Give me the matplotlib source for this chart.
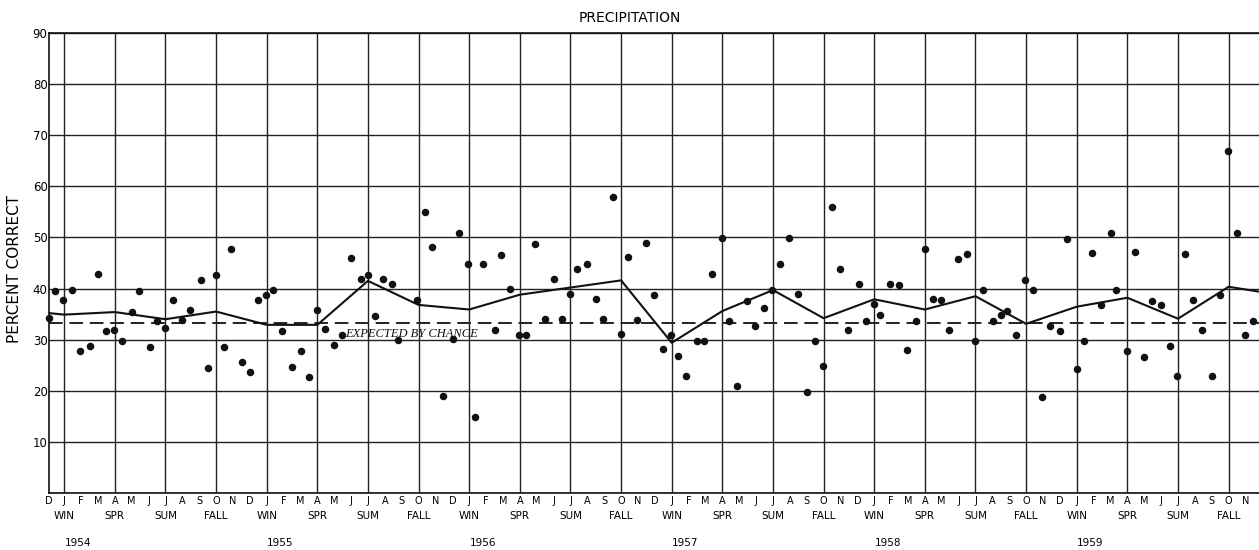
import matplotlib
matplotlib.use("Agg")
from matplotlib import pyplot as plt
import matplotlib.transforms as mtransforms

# month index: J 1954 = 0 ; dots are semi-monthly verification scores
dot_x = [-0.9, -0.55, -0.06, 0.48, 0.93, 1.53, 1.98, 2.46, 2.98, 3.43, 4.0, 4.46, 5.1, 5.5, 5.99,
         6.47, 6.96, 7.46, 8.08, 8.5, 8.99, 9.48, 9.9, 10.56, 10.99, 11.49, 11.94, 12.38, 12.88, 13.5,
         14.04, 14.53, 15.0, 15.45, 15.96, 16.46, 17.0, 17.56, 18.0, 18.41, 18.87, 19.45, 19.77, 20.92,
         21.37, 21.82, 22.42, 23.05, 23.38, 23.93, 24.36, 24.82, 25.53, 25.88, 26.4, 26.95, 27.38, 27.9,
         28.49, 29.0, 29.49, 30.0, 30.41, 30.98, 31.51, 31.93, 32.51, 33.0, 33.41, 33.95, 34.46, 34.97,
         35.46, 35.93, 36.39, 36.86, 37.47, 37.9, 38.41, 39.0, 39.37, 39.88, 40.47, 40.92, 41.49, 41.95,
         42.42, 42.93, 43.47, 44.0, 44.51, 44.97, 45.49, 46.0, 46.46, 47.07, 47.5, 47.98, 48.36, 48.95,
         49.45, 49.94, 50.46, 50.99, 51.46, 51.96, 52.46, 52.99, 53.47, 53.98, 54.42, 55.03, 55.5, 55.88,
         56.4, 56.96, 57.42, 57.93, 58.43, 58.98, 59.42, 60.0, 60.43, 60.88, 61.42, 62.03, 62.35, 62.98,
         63.44, 63.97, 64.47, 64.98, 65.51, 65.97, 66.43, 66.88, 67.44, 68.01, 68.49, 68.96, 69.48, 69.98,
         70.45]
dot_y = [34.3, 39.5, 37.75, 39.8, 27.8, 28.7, 42.9, 31.6, 31.9, 29.7, 35.5, 39.6, 28.6, 33.65, 32.35,
         37.7, 33.8, 35.9, 41.65, 24.5, 42.6, 28.6, 47.7, 25.7, 23.6, 37.75, 38.8, 39.8, 31.7, 24.7,
         27.8, 22.6, 35.9, 32.0, 28.9, 30.85, 45.9, 41.8, 42.7, 34.6, 41.8, 40.9, 30.0, 37.75,
         54.9, 48.15, 19.0, 30.2, 50.9, 44.9, 14.9, 44.9, 31.8, 46.6, 39.9, 30.9, 30.9, 48.7,
         34.0, 41.8, 34.0, 38.85, 43.9, 44.8, 37.9, 34.0, 57.85, 31.2, 46.1, 33.8, 49.0, 38.7,
         28.1, 31.0, 26.8, 22.85, 29.8, 29.8, 42.9, 49.85, 33.6, 21.0, 37.5, 32.7, 36.1, 39.75,
         44.8, 49.9, 38.9, 19.8, 29.7, 24.8, 55.9, 43.9, 31.9, 40.8, 33.6, 36.9, 34.8, 40.8,
         40.7, 27.9, 33.6, 47.8, 37.9, 37.7, 31.8, 45.7, 46.7, 29.7, 39.75, 33.6, 34.9, 35.7,
         31.0, 41.7, 39.75, 18.7, 32.7, 31.7, 49.7, 24.2, 29.8, 46.9, 36.8, 50.9, 39.8, 27.7,
         47.1, 26.7, 37.5, 36.8, 28.8, 22.8, 46.8, 37.8, 31.9, 22.9, 38.8, 67.0, 50.9, 30.9,
         33.75]

# seasonal averages (plotted at mid-season month)
season_x = [-0.9, 0, 3, 6, 9, 12, 15, 18, 21, 24, 27, 30, 33, 36, 39, 42, 45, 48, 51, 54,
            57, 60, 63, 66, 69, 70.8]
season_y = [35.2, 34.9, 35.4, 34.0, 35.5, 32.9, 32.9, 41.5, 36.8, 35.9, 38.8, 40.2, 41.6, 29.4,
            35.6, 39.7, 34.2, 37.9, 35.9, 38.5, 33.1, 36.45, 38.2, 34.1, 40.35, 39.4]

chance = 33.3
months = ["J", "F", "M", "A", "M", "J", "J", "A", "S", "O", "N", "D"]
seasons = ["WIN", "SPR", "SUM", "FALL"]
years = ["1954", "1955", "1956", "1957", "1958", "1959"]
x0, x1 = -0.9, 70.8

fig = plt.figure(figsize=(12.59, 5.5), dpi=100)
ax = fig.add_axes([49 / 1259, 57 / 550, 1210 / 1259, 460 / 550])

ax.plot(dot_x, dot_y, "o", color="#111111", markersize=4.4, clip_on=False, zorder=4)
ax.plot(season_x, season_y, "-", color="#111111", lw=1.5, zorder=3)
ax.axhline(chance, color="#222222", lw=1.4, dashes=(7, 3.5), zorder=2)
ax.text(16.65, 30.6, "EXPECTED BY CHANCE", family="Liberation Serif", style="italic",
        fontsize=9, color="#111111", va="baseline", ha="left", zorder=5)

ax.set_xlim(x0, x1)
ax.set_ylim(0, 90)

# month letters
mpos = [x0] + list(range(0, 71))
mlab = ["D"] + [months[i % 12] for i in range(0, 71)]
ax.xaxis.remove_overlapping_locs = False
ax.set_xticks(mpos)
ax.set_xticklabels(mlab, fontsize=7)
ax.set_xticks(list(range(0, 70, 3)), minor=True)
ax.set_yticks(range(0, 91, 10))
ax.set_yticklabels([""] + [str(v) for v in range(10, 91, 10)], fontsize=8.5)
ax.tick_params(which="both", length=0)
ax.tick_params(axis="x", pad=2)
ax.tick_params(axis="y", pad=1)

ax.grid(which="major", axis="y", color="#222222", lw=1.0)
ax.grid(which="minor", axis="x", color="#222222", lw=1.0)
ax.set_axisbelow(True)
for s in ["left", "top", "bottom"]:
    ax.spines[s].set_linewidth(1.2)
    ax.spines[s].set_color("#111111")
ax.spines["right"].set_visible(False)

trans = mtransforms.blended_transform_factory(ax.transData, ax.transAxes)
for i, q in enumerate(range(0, 70, 3)):
    ax.text(q, -0.05, seasons[i % 4], transform=trans, ha="center", va="center", fontsize=7.5)
for k, yr in enumerate(years):
    ax.text(12 * k + 0.8, -0.109, yr, transform=trans, ha="center", va="center", fontsize=7.5)

fig.text(0.5, 1 - 18 / 550, "PRECIPITATION", ha="center", va="center", fontsize=10)
fig.text(15 / 1259, 1 - 269 / 550, "PERCENT CORRECT", rotation=90, ha="center", va="center",
         fontsize=11)

fig.savefig("out.png", dpi=100)
